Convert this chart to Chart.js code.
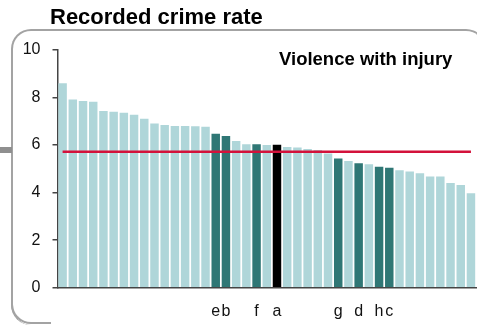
<!DOCTYPE html>
<html>
<head>
<meta charset="utf-8">
<script src="https://cdn.jsdelivr.net/npm/chart.js@4/dist/chart.umd.min.js"></script>
<style>
  html, body { margin: 0; padding: 0; background: #fff; overflow: hidden; }
  body { width: 477px; height: 325px; position: relative; font-family: 'Liberation Sans', Arial, sans-serif; }
  #frame {
    position: absolute; left: 11px; top: 29px; width: 475px; height: 296px;
    border: 2px solid #a3a3a3; border-bottom: none;
    border-radius: 20px 20px 0 20px; box-sizing: border-box;
  }
  #frameCorner {
    position: absolute; left: 11px; top: 285px; width: 40px; height: 39px;
    border-left: 2px solid #a3a3a3; border-bottom: 2px solid #a3a3a3;
    border-bottom-left-radius: 20px; box-sizing: border-box;
  }
  #stub { position: absolute; left: 0; top: 147px; width: 12px; height: 6px; background: #8f8f8f; }
  #chart { position: absolute; left: 0; top: 0; }
  .title { position: absolute; font-weight: bold; color: #000; white-space: nowrap; }
  #mainTitle { left: 50px; top: 6px; font-size: 22px; line-height: 22px; }
  #subTitle { left: 279px; top: 50px; font-size: 18.5px; line-height: 18.5px; }
</style>
</head>
<body>
<div id="frame"></div>
<div id="frameCorner"></div>
<div id="stub"></div>
<canvas id="chart" width="485" height="325"></canvas>
<div class="title" id="mainTitle">Recorded crime rate</div>
<div class="title" id="subTitle">Violence with injury</div>
<script>
  /* ── datos ─────────────────────────────────────────────────────── */
  const areaLabels = [
    '', '', '', '', '', '', '', '', '', '',
    '', '', '', '', '', 'e', 'b', '', '', 'f',
    '', 'a', '', '', '', '', '', 'g', '', 'd',
    '', 'h', 'c', '', '', '', '', '', '', '', ''
  ];
  const crimeRates = [
    8.60, 7.92, 7.85, 7.82, 7.43, 7.40, 7.36, 7.28, 7.11, 6.91,
    6.84, 6.80, 6.80, 6.79, 6.77, 6.48, 6.38, 6.17, 6.04, 6.03,
    6.00, 6.01, 5.92, 5.90, 5.83, 5.79, 5.65, 5.44, 5.33, 5.24,
    5.19, 5.09, 5.05, 4.94, 4.89, 4.81, 4.68, 4.68, 4.40, 4.32, 3.97
  ];
  const averageRate = 5.72;
  const yTicks = [0, 2, 4, 6, 8, 10];

  /* Colores: claro (resto), oscuro (comparables), negro (área a) */
  const LIGHT = '#afd6d9', DARK = '#2f7775', BLACK = '#000000';
  const barColors = areaLabels.map(l => l === 'a' ? BLACK : (l ? DARK : LIGHT));

  const FONT = "'Liberation Sans', Arial, sans-serif";

  new Chart(document.getElementById('chart').getContext('2d'), {
    data: {
      labels: areaLabels,
      datasets: [
        {
          type: 'line',
          data: areaLabels.map(() => averageRate),
          borderColor: '#d3123b',
          borderWidth: 2.5,
          pointRadius: 0,
          order: 0,
        },
        {
          type: 'bar',
          data: crimeRates,
          backgroundColor: barColors,
          borderWidth: 0,
          barPercentage: 0.83,
          categoryPercentage: 1,
          order: 1,
        },
      ],
    },
    options: {
      responsive: false,
      animation: false,
      events: [],
      layout: { padding: { left: 0, right: 4, top: 50, bottom: 0 } },
      plugins: { legend: { display: false }, tooltip: { enabled: false } },
      scales: {
        x: {
          grid: { display: false, drawTicks: false },
          border: { display: true, color: '#444', width: 1.5 },
          ticks: {
            autoSkip: false, maxRotation: 0, minRotation: 0, padding: 14,
            color: '#111', font: { family: FONT, size: 16 },
          },
          afterFit: (s) => { s.height = 325 - 287.7; },
        },
        y: {
          min: 0, max: 10,
          afterBuildTicks: (s) => { s.ticks = yTicks.map(v => ({ value: v })); },
          grid: { drawOnChartArea: false, drawTicks: true, tickLength: 5, color: '#444', lineWidth: 1.5 },
          border: { display: true, color: '#444', width: 1.5 },
          ticks: { padding: 12, color: '#111', font: { family: FONT, size: 16 } },
          afterFit: (s) => { s.width = 57.5; },
        },
      },
    },
  });
</script>
</body>
</html>
